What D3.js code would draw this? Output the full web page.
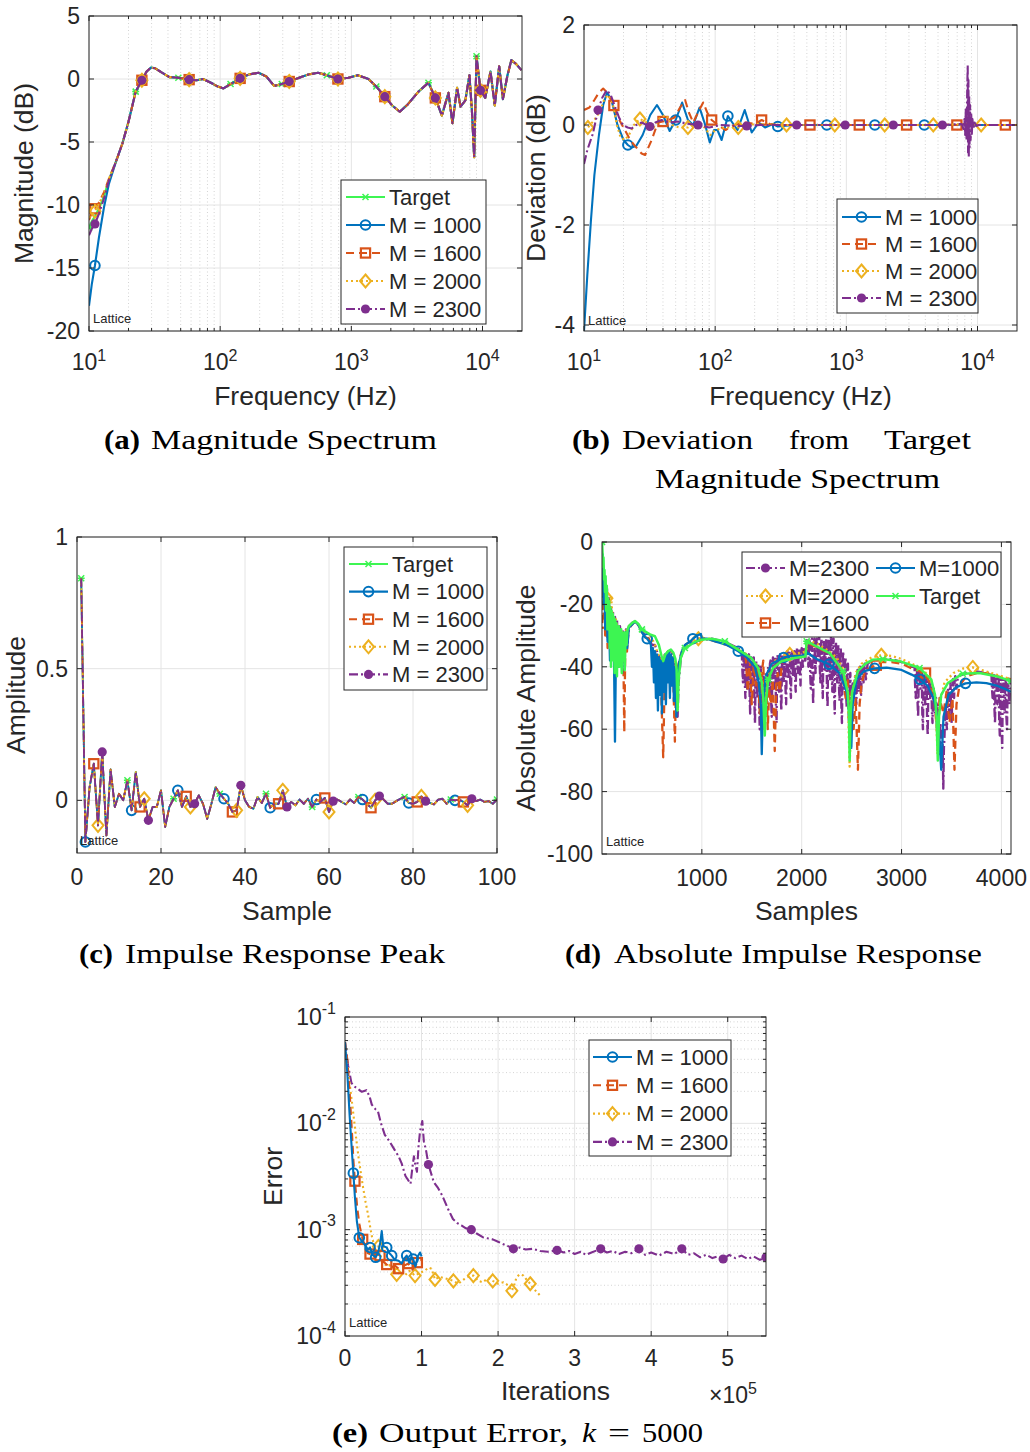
<!DOCTYPE html>
<html>
<head>
<meta charset="utf-8">
<script src="https://cdn.jsdelivr.net/npm/d3@7"></script>
<style>
  body { margin: 0; background: #fff; }
  svg text { font-family: "Liberation Sans", Arial, sans-serif; fill: #262626; }
  svg text.cap { font-family: "Liberation Serif", "DejaVu Serif", serif; fill: #000; }
</style>
</head>
<body>
<svg id="fig" width="1030" height="1452"></svg>
<script>
// ---------- (a) magnitude spectrum ----------
const freqA = [10, 10.5, 11.1, 11.9, 13, 14.2, 16, 18, 20, 22.7, 25.3, 27.5, 29.6, 32, 36, 41, 48, 58, 66, 74,
  85, 96, 106, 120, 142, 165, 196, 225, 258, 295, 336, 400, 470, 557, 650, 790, 950, 1120, 1350, 1550,
  1800, 2050, 2340, 2700, 3250, 3870, 4370, 4900, 5500, 5900, 6400, 6800, 7400, 7950, 8300, 8640, 9000, 9650, 10500, 11500,
  12400, 13400, 14300, 15500, 16600, 18000, 19800];
const magTarget = [-11.8, -11.3, -10.9, -10.3, -9.3, -8.0, -6.6, -5.1, -3.4, -1.0,
  -0.1, 0.6, 0.9, 0.85, 0.5, 0.15, 0.1, -0.05, -0.1, 0.0,
  -0.3, -0.6, -0.75, -0.4, 0.05, 0.35, 0.5, 0.2, -0.55, -0.4,
  -0.2, 0.1, 0.35, 0.5, 0.3, 0.0, 0.1, 0.3, 0.0, -0.6,
  -1.4, -2.1, -2.6, -2.0, -1.0, -0.3, -1.5, -2.9, -1.1, -3.5,
  -0.7, -2.2, -1.7, 0.3, -2.5, -6.2, 1.8, -0.9, -1.5, 0.6,
  -2.1, 1.0, -1.6, 0.3, 1.5, 1.2, 0.7];
// the M curves only leave the target below ~15 Hz
const magHead1000 = [-18.0, -16.3, -14.8, -12.6, -10.2, -8.3];
const magHead1600 = [-11.2, -10.6, -10.3, -9.8, -9.0, -7.9];
const magHead2000 = [-11.0, -10.8, -10.5, -9.9, -9.1, -7.9];
const magHead2300 = [-12.4, -11.9, -11.5, -10.7, -9.5, -8.0];
const mkIdxTargetA = [0, 9, 16, 23, 29, 34, 39, 45, 56];
const mkIdxMA = [2, 10, 17, 24, 30, 35, 40, 46, 57];

// ---------- (b) deviation ----------
const dev1000 = [[10, -4.12], [10.6, -3.0], [11.3, -1.9], [12, -1.0], [13, -0.2], [14, 0.4], [15, 0.65], [16.2, 0.5], [18, 0.0], [20, -0.3],
  [21.6, -0.4], [23, -0.45], [25, -0.42], [28, -0.2], [32, 0.2], [36, 0.4], [40, 0.2], [45, -0.12], [50, 0.1], [56, 0.45],
  [62, 0.1], [68, 0.0], [76, 0.35], [84, 0.0], [91, -0.35], [98, -0.1], [104, -0.1], [112, -0.3], [125, 0.18], [135, 0.05],
  [148, -0.1], [168, 0.3], [190, -0.15], [215, 0.05], [240, -0.05], [275, 0.02], [300, -0.03], [400, 0.0], [710, 0.0], [1650, 0.0],
  [3930, 0.0], [7000, 0.0], [8200, 0.03], [8500, -0.06], [8800, 0.04], [9200, -0.02], [10000, 0], [20000, 0]];
const dev1600 = [[10, 0.3], [11, 0.35], [12, 0.5], [13, 0.65], [14, 0.73], [15, 0.65], [16.9, 0.39], [18, 0.17], [20, -0.05], [22, -0.25],
  [23.6, -0.37], [26, -0.5], [27.5, -0.57], [29.2, -0.6], [32.8, -0.3], [36.6, 0.05], [40, 0.07], [44, 0.1], [49, 0.15], [54, 0.35],
  [59, 0.5], [63, 0.25], [68, 0.05], [74, 0.25], [81, 0.45], [87, 0.25], [94, 0.1], [105, 0.0], [120, -0.1], [140, 0.0],
  [170, 0.05], [200, 0.02], [226, 0.1], [260, 0.02], [300, 0.0], [528, 0.0], [1255, 0.0], [2880, 0.0], [6960, 0.0], [8300, 0.03],
  [8600, -0.05], [9000, 0.03], [10000, 0], [16300, 0.0], [20000, 0]];
const dev2000 = [[10, -0.1], [10.7, -0.05], [12, 0.1], [13.2, 0.27], [14.2, 0.5], [15.2, 0.6], [16.5, 0.45], [17.8, 0.0], [19, -0.25], [20.5, -0.3],
  [22, -0.2], [24, 0.0], [26.7, 0.12], [30, 0.05], [34, -0.05], [38, 0.15], [42, 0.2], [47, 0.0], [53, -0.05], [62, -0.05],
  [70, 0.05], [80, 0.0], [92, -0.2], [100, -0.1], [120, -0.05], [150, -0.05], [200, 0.02], [350, 0.0], [816, 0.0], [1960, 0.0],
  [4600, 0.0], [8300, 0.02], [8600, -0.04], [9000, 0.02], [10660, 0.0], [20000, 0.0]];
const dev2300 = [[10, -0.78], [10.6, -0.5], [11.7, -0.17], [12.8, 0.3], [13.8, 0.55], [14.9, 0.7], [16, 0.6], [17.2, 0.37], [18.5, 0.15], [19.8, 0.0],
  [21.5, -0.05], [23.1, -0.07], [25, 0.0], [27.5, 0.05], [31.8, -0.03], [35, 0.05], [39, 0.1], [45, 0.05], [52, 0.07], [60, 0.03],
  [74, 0.0], [90, -0.05], [110, 0.0], [140, -0.02], [174, -0.02], [220, 0.0], [418, 0.0], [980, 0.0], [2280, 0.0], [5400, 0.0],
  [7600, 0.02], [7800, -0.08], [7950, 0.12], [8050, -0.2], [8150, 0.35], [8250, -0.3], [8350, 0.75], [8420, 1.2], [8470, -0.55], [8530, 0.9],
  [8580, -0.65], [8640, 0.6], [8700, -0.45], [8780, 0.4], [8860, -0.3], [8950, 0.25], [9050, -0.18], [9150, 0.12], [9300, -0.08], [9500, 0.05],
  [9800, -0.02], [10200, 0.0], [20000, 0.0]];
const mkDev1000 = [21.6, 50, 125, 300, 710, 1650, 3930];
const mkDev1600 = [16.9, 40, 94, 226, 528, 1255, 2880, 6960, 16300];
const mkDev2000 = [10.7, 26.7, 62, 150, 350, 816, 1960, 4600, 10660];
const mkDev2300 = [12.8, 31.8, 74, 174, 418, 980, 2280, 5400];

// ---------- (c) impulse response, first 100 samples ----------
const irPeak = [0.843, -0.158, 0.05, 0.139, -0.095, 0.184, -0.133, 0.117, -0.025, 0.025,
  0, 0.076, -0.038, 0.108, -0.025, 0.006, -0.076, -0.025, -0.025, 0.038,
  -0.101, -0.025, 0.006, 0.038, -0.025, 0.015, -0.025, -0.013, 0.019, -0.013,
  -0.07, -0.013, 0.05, 0.025, 0.006, -0.013, -0.044, -0.038, 0.057, 0,
  -0.025, -0.032, 0.013, -0.01, 0.025, -0.028, -0.013, -0.013, 0.038, -0.025,
  -0.006, -0.019, 0.003, -0.013, 0.006, -0.025, 0.003, -0.006, 0.009, -0.044,
  -0.003, 0.003, -0.006, -0.015, 0.003, -0.01, 0.013, 0.003, -0.013, -0.028,
  0, 0.016, 0.003, -0.013, -0.013, -0.003, 0.006, 0.013, -0.01, -0.013,
  -0.006, 0.015, -0.003, -0.01, -0.015, 0.003, 0.006, -0.013, 0.003, 0,
  0.003, -0.006, -0.019, 0.006, -0.003, 0.003, -0.006, -0.003, -0.013, 0.003];
const mkStartC = {target: 1, m1000: 2, m1600: 4, m2000: 5, m2300: 6};

// ---------- (d) absolute impulse response (dB) ----------
const absTarget = [[1, 0], [5, -3], [10, -8], [15, -5], [20, -12], [25, -9], [30, -16], [36, -11], [42, -22], [48, -14],
  [54, -28], [60, -18], [66, -25], [72, -19], [78, -34], [84, -21], [90, -40], [96, -22], [102, -30], [108, -23],
  [114, -38], [120, -24], [126, -42], [132, -25], [138, -34], [144, -26], [150, -43], [156, -27], [162, -36], [168, -27],
  [174, -40], [180, -28], [186, -34], [192, -28], [198, -42], [204, -29], [212, -38], [220, -29], [228, -41], [236, -29],
  [246, -33], [256, -28], [268, -27], [300, -26], [330, -25.3], [365, -26.3], [400, -28], [430, -28.6], [480, -29.6], [530, -30.2],
  [570, -33], [600, -37], [613, -38.2], [635, -36], [663, -35], [690, -34.5], [715, -35.5], [735, -37.5], [747, -41], [757, -54],
  [767, -44], [790, -37], [830, -34], [863, -33.5], [930, -32], [997, -31.3], [1097, -31], [1230, -31.8], [1363, -34.5], [1497, -37.2],
  [1563, -40.4], [1600, -45], [1615, -50], [1630, -62], [1645, -50], [1665, -44], [1713, -40.4], [1797, -38.2], [1930, -37.2], [2037, -36.7],
  [2050, -31.8], [2150, -33.5], [2280, -35.6], [2413, -41.4], [2460, -48], [2473, -55], [2480, -70], [2490, -55], [2505, -48], [2563, -41.4],
  [2640, -39], [2713, -37.7], [2813, -37.5], [2980, -38.2], [3180, -40.4], [3297, -44], [3335, -49], [3350, -56], [3363, -70], [3375, -56],
  [3397, -49], [3463, -45.2], [3613, -42.2], [3780, -42], [3947, -43], [4096, -44.6]];
const abs1000 = [[1, -16], [8, -4], [16, -20], [24, -12], [32, -28], [44, -18], [56, -32], [68, -22], [80, -38], [92, -24],
  [104, -34], [116, -26], [130, -64], [142, -28], [154, -40], [166, -29], [178, -36], [190, -29], [202, -42], [214, -30],
  [226, -34], [238, -29], [252, -34], [268, -27.5], [300, -26.5], [330, -25.5], [365, -26.5], [400, -29], [430, -30.5], [453, -31],
  [475, -32], [490, -33], [500, -40], [510, -34], [520, -45], [530, -35], [540, -50], [550, -36], [560, -54], [570, -37],
  [580, -49], [590, -38], [600, -55], [610, -38], [620, -48], [630, -36], [640, -52], [650, -36], [660, -45], [670, -35],
  [680, -50], [690, -36], [700, -46], [710, -37], [720, -51], [730, -40], [745, -56], [755, -45], [770, -39], [800, -35],
  [830, -33], [880, -32], [910, -31], [950, -30], [990, -29.5], [1000, -31], [1050, -31], [1150, -32], [1250, -33], [1365, -35],
  [1450, -37], [1530, -40], [1570, -45], [1590, -52], [1600, -68], [1612, -52], [1640, -43], [1700, -39], [1820, -37], [1900, -36.5],
  [2000, -36.5], [2045, -36], [2055, -35.5], [2150, -37.5], [2275, -39.2], [2380, -42], [2450, -48], [2480, -56], [2497, -66], [2510, -52],
  [2550, -44], [2620, -41.5], [2730, -40.5], [2850, -40.3], [3000, -41], [3100, -42.5], [3185, -44], [3260, -46], [3320, -50], [3370, -58],
  [3397, -73], [3420, -56], [3470, -49], [3550, -46.5], [3640, -45.3], [3750, -45], [3850, -45.2], [3950, -46], [4030, -47], [4096, -48]];
const abs1600 = [[1, -26], [8, -14], [16, -24], [24, -18], [32, -30], [44, -22], [56, -34], [68, -24], [80, -30], [92, -26],
  [104, -36], [116, -27], [128, -40], [140, -29], [152, -33], [164, -30], [176, -38], [188, -30], [200, -36], [212, -31],
  [223, -61], [234, -32], [248, -36], [265, -28], [300, -26.5], [330, -25.5], [365, -26.5], [400, -29], [430, -30.5], [470, -31],
  [500, -34], [530, -36], [560, -38], [590, -45], [613, -69], [625, -48], [645, -38], [665, -36], [690, -36.5], [710, -39],
  [730, -64], [742, -45], [760, -40], [790, -36], [830, -33], [880, -32], [950, -31], [1050, -31], [1150, -32], [1250, -33],
  [1350, -34.5], [1420, -36], [1440, -37], [1460, -48], [1480, -38], [1500, -52], [1520, -39], [1540, -46], [1560, -40], [1580, -55],
  [1600, -42], [1615, -38], [1630, -56], [1645, -44], [1660, -60], [1675, -47], [1690, -52], [1710, -44], [1730, -67], [1745, -46],
  [1760, -42], [1780, -48], [1800, -39], [1830, -38], [1870, -37], [1930, -36.5], [2000, -36], [2040, -35], [2055, -32], [2100, -33],
  [2200, -34.5], [2300, -36], [2400, -41], [2440, -50], [2460, -44], [2480, -55], [2500, -48], [2520, -60], [2540, -50], [2563, -73],
  [2580, -52], [2600, -45], [2640, -41], [2747, -39.5], [2800, -38.5], [2900, -38.5], [3000, -39], [3100, -40.5], [3240, -42], [3280, -45],
  [3330, -52], [3360, -62], [3380, -50], [3420, -55], [3450, -48], [3480, -58], [3510, -50], [3530, -73], [3550, -52], [3580, -46],
  [3650, -43], [3750, -42], [3850, -42], [3950, -43], [4096, -44]];
const abs2000 = [[1, -6], [10, -12], [20, -16], [30, -14], [49, -18], [60, -22], [75, -20], [90, -17], [105, -24], [120, -26],
  [135, -24], [150, -27], [170, -29], [190, -28], [210, -30], [230, -29], [250, -28], [270, -27], [300, -26], [330, -25.5],
  [365, -26.5], [400, -28.5], [430, -29], [470, -29.5], [500, -31], [530, -33], [560, -36], [600, -37.5], [640, -35.5], [665, -35],
  [700, -35], [730, -38], [750, -46], [757, -53], [770, -40], [800, -35], [850, -32.5], [965, -31], [1050, -30.8], [1150, -31.5],
  [1250, -32.5], [1350, -34], [1450, -36], [1530, -38.5], [1580, -41], [1610, -46], [1625, -58], [1640, -47], [1670, -41], [1710, -38.5],
  [1790, -37], [1881, -36], [2000, -35.5], [2045, -35], [2055, -31.5], [2150, -32.5], [2250, -34.5], [2350, -37], [2420, -41], [2460, -48],
  [2480, -72], [2500, -50], [2540, -42], [2600, -39], [2700, -37], [2797, -36.3], [2900, -36.5], [3000, -37.5], [3100, -39], [3200, -40.5],
  [3290, -43.5], [3340, -51], [3360, -68], [3380, -52], [3430, -45], [3520, -42], [3620, -40.5], [3713, -40.2], [3800, -41], [3900, -42],
  [4000, -43], [4096, -44]];
const abs2300 = [[1, -14], [10, -8], [20, -20], [30, -12], [40, -26], [50, -15], [60, -30], [70, -18], [80, -33], [90, -21],
  [100, -36], [110, -22], [120, -38], [130, -24], [140, -35], [150, -25], [165, -40], [180, -27], [195, -37], [210, -28],
  [225, -40], [240, -28], [255, -33], [270, -27], [300, -26], [330, -25.5], [360, -26.5], [400, -28.5], [430, -30], [470, -31],
  [500, -33], [530, -33], [560, -36], [590, -38], [613, -38], [640, -36], [663, -35], [690, -35], [710, -36], [730, -40],
  [747, -44], [757, -56], [767, -45], [790, -37], [820, -34], [860, -33], [900, -32], [1000, -31.5], [1100, -31], [1230, -32],
  [1360, -34], [1400, -35], [1406, -41], [1412, -45], [1418, -38], [1424, -35], [1430, -44], [1436, -50], [1442, -39], [1448, -36],
  [1454, -47], [1460, -42], [1466, -37], [1472, -36], [1478, -48], [1484, -55], [1490, -41], [1496, -37], [1502, -43], [1508, -46],
  [1514, -38], [1520, -37], [1526, -51], [1532, -58], [1538, -42], [1544, -38], [1550, -45], [1556, -50], [1562, -40], [1568, -39],
  [1574, -53], [1580, -60], [1586, -44], [1592, -40], [1598, -47], [1604, -52], [1610, -43], [1616, -44], [1622, -55], [1628, -60],
  [1634, -45], [1640, -42], [1646, -50], [1652, -55], [1658, -43], [1664, -40], [1670, -46], [1676, -49], [1682, -39], [1688, -38],
  [1694, -51], [1700, -56], [1706, -41], [1712, -37], [1718, -44], [1724, -47], [1730, -38], [1736, -37], [1742, -52], [1748, -58],
  [1754, -40], [1760, -36], [1766, -44], [1772, -48], [1778, -38], [1784, -36], [1790, -49], [1796, -54], [1802, -39], [1808, -36],
  [1814, -42], [1820, -45], [1826, -37], [1832, -36], [1838, -47], [1844, -52], [1850, -38], [1856, -35], [1862, -41], [1868, -44],
  [1874, -36], [1880, -35], [1886, -46], [1892, -50], [1898, -37], [1904, -35], [1910, -40], [1916, -43], [1922, -36], [1928, -35],
  [1934, -44], [1940, -48], [1946, -36], [1952, -34], [1958, -39], [1964, -42], [1970, -35], [1976, -34], [1982, -42], [1988, -46],
  [1994, -36], [2000, -34], [2006, -38], [2012, -40], [2018, -35], [2024, -34], [2030, -37], [2036, -38], [2046, -33], [2055, -31],
  [2061, -36], [2067, -40], [2073, -33], [2079, -31], [2085, -42], [2091, -47], [2097, -34], [2103, -31], [2109, -45], [2115, -52],
  [2121, -35], [2127, -31], [2133, -38], [2139, -42], [2145, -33], [2151, -31], [2157, -35], [2163, -38], [2169, -32], [2175, -30],
  [2181, -40], [2187, -45], [2193, -33], [2199, -31], [2205, -44], [2211, -50], [2217, -35], [2223, -32], [2229, -38], [2235, -41],
  [2241, -33], [2247, -31], [2253, -47], [2259, -53], [2265, -34], [2271, -31], [2277, -40], [2283, -44], [2289, -32], [2295, -30],
  [2301, -43], [2307, -48], [2313, -34], [2319, -31], [2325, -49], [2331, -55], [2337, -36], [2343, -32], [2349, -41], [2355, -45],
  [2361, -35], [2367, -33], [2373, -46], [2379, -51], [2385, -37], [2391, -34], [2397, -52], [2403, -58], [2409, -39], [2415, -35],
  [2421, -43], [2427, -47], [2433, -39], [2439, -37], [2445, -49], [2451, -53], [2457, -42], [2463, -39], [2469, -54], [2475, -60],
  [2481, -45], [2487, -42], [2493, -51], [2499, -55], [2505, -47], [2511, -45], [2517, -48], [2523, -50], [2529, -45], [2535, -43],
  [2541, -49], [2547, -52], [2553, -43], [2559, -41], [2565, -45], [2571, -48], [2577, -42], [2583, -40], [2589, -46], [2595, -49],
  [2601, -41], [2607, -40], [2613, -43], [2619, -45], [2625, -40], [2631, -39], [2637, -42], [2643, -44], [2660, -39], [2700, -38],
  [2800, -37.5], [2900, -37.5], [3000, -38.5], [3100, -40], [3130, -40], [3136, -46], [3142, -50], [3148, -42], [3154, -40], [3160, -51],
  [3166, -56], [3172, -43], [3178, -41], [3184, -45], [3190, -47], [3196, -42], [3202, -41], [3208, -55], [3214, -60], [3220, -44],
  [3226, -42], [3232, -49], [3238, -52], [3244, -44], [3250, -43], [3256, -57], [3262, -62], [3268, -46], [3274, -44], [3280, -48],
  [3286, -50], [3292, -46], [3298, -45], [3304, -54], [3310, -58], [3316, -48], [3322, -47], [3328, -52], [3334, -55], [3340, -50],
  [3346, -50], [3352, -58], [3358, -62], [3364, -53], [3370, -52], [3376, -63], [3382, -68], [3388, -58], [3394, -60], [3400, -66],
  [3406, -72], [3412, -65], [3418, -79], [3424, -66], [3430, -62], [3436, -56], [3442, -52], [3448, -57], [3454, -60], [3460, -50],
  [3466, -47], [3472, -52], [3478, -55], [3484, -47], [3490, -45], [3496, -54], [3502, -58], [3508, -46], [3514, -44], [3520, -48],
  [3526, -50], [3532, -44], [3538, -43], [3544, -46], [3550, -47], [3565, -43], [3650, -42], [3750, -41.5], [3850, -42], [3900, -42],
  [3906, -47], [3912, -50], [3918, -43], [3924, -42], [3930, -53], [3936, -58], [3942, -44], [3948, -43], [3954, -49], [3960, -52],
  [3966, -44], [3972, -43], [3978, -57], [3984, -62], [3990, -45], [3996, -44], [4002, -60], [4008, -66], [4014, -46], [4020, -44],
  [4026, -51], [4032, -55], [4038, -45], [4044, -44], [4050, -56], [4056, -60], [4062, -46], [4068, -45], [4074, -49], [4080, -52],
  [4086, -46], [4092, -45]];
const mkAbsTarget = [1, 400, 830, 1230, 1665, 2050, 2413, 2813, 3180, 3613, 4096];
const mkAbs1000 = [1, 453, 910, 1365, 1820, 2275, 2730, 3185, 3640];
const mkAbs1600 = [1, 2747, 3240];
const mkAbs2000 = [49, 965, 1881, 2797, 3713];
const mkAbs2300 = [];

// ---------- (e) output error ----------
const err1000 = [[0, 0.058], [3000, 0.03], [6000, 0.012], [9000, 0.0055], [10900, 0.0034], [13000, 0.002], [15500, 0.0012], [18700, 0.00084], [22000, 0.00078], [26000, 0.00072],
  [30000, 0.00065], [32700, 0.00068], [36000, 0.00058], [40000, 0.00055], [43000, 0.0006], [46000, 0.00075], [48000, 0.00097], [50000, 0.0007], [54500, 0.00068], [58000, 0.0006],
  [61000, 0.00057], [65000, 0.00052], [70000, 0.00051], [74000, 0.00048], [77000, 0.00053], [80600, 0.00057], [84000, 0.00049], [87000, 0.00055], [89000, 0.00053], [92000, 0.00045],
  [95000, 0.00056], [98000, 0.00061], [100000, 0.00056]];
const err1600 = [[0, 0.058], [3000, 0.04], [6000, 0.02], [9000, 0.0085], [11000, 0.0045], [13000, 0.00286], [16000, 0.0016], [19000, 0.0011], [23100, 0.00081], [27000, 0.00068],
  [30000, 0.0006], [32700, 0.00059], [36000, 0.00055], [40000, 0.0006], [45700, 0.00057], [50000, 0.0005], [54500, 0.00047], [60000, 0.00044], [65000, 0.00046], [70000, 0.00043],
  [75000, 0.00045], [82700, 0.00048], [88000, 0.00042], [94500, 0.00049], [100000, 0.00052]];
const err2000 = [[0, 0.058], [3000, 0.035], [6000, 0.024], [9000, 0.016], [12000, 0.0105], [15000, 0.0068], [18000, 0.0046], [21000, 0.0033], [24000, 0.0024], [27000, 0.0018],
  [30000, 0.0014], [33000, 0.00105], [36000, 0.0008], [40000, 0.00068], [43600, 0.000695], [47000, 0.00055], [50000, 0.00049], [55000, 0.00045], [60000, 0.00047], [67500, 0.00038],
  [72000, 0.0004], [78000, 0.00037], [84000, 0.00041], [91500, 0.00037], [97000, 0.00039], [104000, 0.00041], [109000, 0.00044], [113000, 0.00043], [117600, 0.00034], [123000, 0.00036],
  [130000, 0.00035], [136000, 0.00034], [141600, 0.00033], [148000, 0.00031], [155000, 0.00034], [161000, 0.00036], [167700, 0.00037], [174000, 0.00033], [180000, 0.00032], [187000, 0.00035],
  [193000, 0.00033], [200000, 0.00031], [207000, 0.00032], [213000, 0.0003], [218000, 0.000266], [221000, 0.0003], [224000, 0.000355], [228000, 0.00038], [233000, 0.00037], [237000, 0.00034],
  [242000, 0.00031], [246000, 0.00028], [250500, 0.00026], [255000, 0.00024]];
const err2300 = [[0, 0.058], [4000, 0.035], [8400, 0.024], [13000, 0.022], [17000, 0.021], [22000, 0.0198], [28000, 0.0205], [32000, 0.018], [35000, 0.015], [40000, 0.0135],
  [43000, 0.013], [47000, 0.01], [52000, 0.0078], [58000, 0.0068], [65000, 0.0056], [70000, 0.0049], [74000, 0.0042], [79000, 0.0032], [85600, 0.0027], [88000, 0.0038],
  [90000, 0.0049], [92000, 0.004], [94000, 0.0035], [96000, 0.006], [98000, 0.0084], [101000, 0.0105], [103000, 0.0068], [106000, 0.0055], [109000, 0.0041], [116000, 0.0028],
  [121000, 0.0025], [127000, 0.0021], [134000, 0.0016], [141000, 0.00126], [147000, 0.00115], [152000, 0.0011], [158000, 0.00103], [165000, 0.001], [172000, 0.00092], [180000, 0.00085],
  [186000, 0.00083], [193000, 0.00081], [200000, 0.00077], [207000, 0.00073], [213000, 0.0007], [220000, 0.00066], [228000, 0.00068], [236000, 0.00065], [245000, 0.00066], [255000, 0.00063],
  [265000, 0.00062], [277000, 0.00064], [286000, 0.00061], [293000, 0.00063], [300000, 0.00059], [308000, 0.00062], [315000, 0.00058], [322000, 0.00061], [334000, 0.00066], [342000, 0.00061],
  [350000, 0.00063], [358000, 0.00059], [366000, 0.00062], [374000, 0.0006], [384000, 0.00066], [392000, 0.00058], [400000, 0.00061], [410000, 0.00057], [420000, 0.00062], [430000, 0.00059],
  [440000, 0.00066], [448000, 0.00058], [456000, 0.0006], [464000, 0.00055], [472000, 0.00058], [480000, 0.00054], [487000, 0.00056], [494000, 0.00053], [502000, 0.00058], [510000, 0.00054],
  [518000, 0.00057], [526000, 0.00053], [534000, 0.00056], [542000, 0.00052], [550000, 0.00055]];
const mkErr1000 = [10900, 18700, 32700, 40000, 54500, 61000, 80600, 89000];
const mkErr1600 = [13000, 23100, 32700, 45700, 54500, 70000, 82700, 94500];
const mkErr2000 = [43600, 67500, 91500, 117600, 141600, 167700, 193000, 218000, 242000];
const mkErr2300 = [109000, 165000, 220000, 277000, 334000, 384000, 440000, 494000, 550000];

// tick labels
const decadeTicks = [10, 100, 1000, 10000];
const decadeLabels = [['10', '1'], ['10', '2'], ['10', '3'], ['10', '4']];
const yTicksA = [-20, -15, -10, -5, 0, 5];
const yTicksB = [-4, -2, 0, 2];
const xTicksC = [0, 20, 40, 60, 80, 100];
const yTicksC = [0, 0.5, 1];
const xTicksD = [1000, 2000, 3000, 4000];
const yTicksD = [-100, -80, -60, -40, -20, 0];
const xTicksE = [0, 100000, 200000, 300000, 400000, 500000];
const xLabelsE = ['0', '1', '2', '3', '4', '5'];
const yTicksE = [1e-4, 1e-3, 1e-2, 1e-1];
const yLabelsE = [['10', '-4'], ['10', '-3'], ['10', '-2'], ['10', '-1']];

// line styles of the five curves
const ST = {
    target: {color: '#3df552', dash: null, marker: 'x'},
    m1000: {color: '#0072bd', dash: null, marker: 'o'},
    m1600: {color: '#d95319', dash: '8,5', marker: 's'},
    m2000: {color: '#edb120', dash: '2,3', marker: 'd'},
    m2300: {color: '#7e2f8e', dash: '9,3,2,3', marker: '.'}
};
const TICK_FS = 23, TITLE_FS = 26.5, LEGEND_FS = 22;

const svg = d3.select('#fig');
const defs = svg.append('defs');

function marker(g, type, x, y, color) {
    if (type === 'o') {
        g.append('circle').attr('cx', x).attr('cy', y).attr('r', 4.8)
            .attr('fill', 'none').attr('stroke', color).attr('stroke-width', 2);
    } else if (type === 's') {
        g.append('rect').attr('x', x - 4.6).attr('y', y - 4.6).attr('width', 9.2).attr('height', 9.2)
            .attr('fill', 'none').attr('stroke', color).attr('stroke-width', 2.2);
    } else if (type === 'd') {
        g.append('path').attr('d', `M${x},${y - 6.5}L${x + 5.5},${y}L${x},${y + 6.5}L${x - 5.5},${y}Z`)
            .attr('fill', 'none').attr('stroke', color).attr('stroke-width', 2);
    } else if (type === '.') {
        g.append('circle').attr('cx', x).attr('cy', y).attr('r', 4.6).attr('fill', color);
    } else {
        g.append('path').attr('d', `M${x - 3},${y - 3}L${x + 3},${y + 3}M${x - 3},${y + 3}L${x + 3},${y - 3}M${x - 3.5},${y}L${x + 3.5},${y}`)
            .attr('stroke', color).attr('stroke-width', 1.5);
    }
}

function setLabel(sel, t) {
    if (Array.isArray(t)) {
        sel.text(t[0]);
        sel.append('tspan').attr('dy', -9.5).attr('font-size', 16).text(t[1]);
    } else {
        sel.text(t);
    }
}

function minorDecades(lo, hi) {
    const out = [];
    for (let d = lo; d < hi; d *= 10) for (let k = 2; k <= 9; k++) if (d * k < hi) out.push(d * k);
    return out;
}

// grid + clipped plot group
function panel(id, xs, ys, opt) {
    const [x0, x1] = xs.range(), [y1, y0] = ys.range();
    const g = svg.append('g');
    const vline = (data, stroke, dash) => g.selectAll(null).data(data).join('line')
        .attr('x1', d => xs(d)).attr('x2', d => xs(d)).attr('y1', y0).attr('y2', y1)
        .attr('stroke', stroke).attr('stroke-dasharray', dash);
    const hline = (data, stroke, dash) => g.selectAll(null).data(data).join('line')
        .attr('y1', d => ys(d)).attr('y2', d => ys(d)).attr('x1', x0).attr('x2', x1)
        .attr('stroke', stroke).attr('stroke-dasharray', dash);
    vline(opt.xMinor || [], '#d4d4d4', '1,2.5');
    hline(opt.yMinor || [], '#d4d4d4', '1,2.5');
    vline(opt.xTicks, '#e4e4e4', null);
    hline(opt.yTicks, '#e4e4e4', null);
    defs.append('clipPath').attr('id', id).append('rect')
        .attr('x', x0).attr('y', y0).attr('width', x1 - x0).attr('height', y1 - y0);
    const plot = svg.append('g').attr('clip-path', `url(#${id})`);
    return {xs, ys, opt, plot, x0, x1, y0, y1};
}

function axes(P) {
    const {xs, ys, opt, x0, x1, y0, y1} = P;
    const g = svg.append('g');
    const tk = '#262626';
    g.append('rect').attr('x', x0).attr('y', y0).attr('width', x1 - x0).attr('height', y1 - y0)
        .attr('fill', 'none').attr('stroke', tk).attr('stroke-width', 1);
    const xt = (vals, len) => vals.forEach(v => {
        g.append('line').attr('x1', xs(v)).attr('x2', xs(v)).attr('y1', y1).attr('y2', y1 - len).attr('stroke', tk);
        g.append('line').attr('x1', xs(v)).attr('x2', xs(v)).attr('y1', y0).attr('y2', y0 + len).attr('stroke', tk);
    });
    const yt = (vals, len) => vals.forEach(v => {
        g.append('line').attr('y1', ys(v)).attr('y2', ys(v)).attr('x1', x0).attr('x2', x0 + len).attr('stroke', tk);
        g.append('line').attr('y1', ys(v)).attr('y2', ys(v)).attr('x1', x1).attr('x2', x1 - len).attr('stroke', tk);
    });
    xt(opt.xTicks, 5); yt(opt.yTicks, 5);
    xt(opt.xMinor || [], 3); yt(opt.yMinor || [], 3);
    opt.xTicks.forEach((v, i) => {
        setLabel(g.append('text').attr('x', xs(v)).attr('y', y1 + opt.xLabDy).attr('text-anchor', 'middle')
            .attr('font-size', TICK_FS), opt.xLabels ? opt.xLabels[i] : String(v));
    });
    opt.yTicks.forEach((v, i) => {
        setLabel(g.append('text').attr('x', x0 - 9).attr('y', ys(v)).attr('text-anchor', 'end')
            .attr('dominant-baseline', 'central').attr('font-size', TICK_FS), opt.yLabels ? opt.yLabels[i] : String(v));
    });
    g.append('text').attr('x', (x0 + x1) / 2).attr('y', opt.xTitleY).attr('text-anchor', 'middle')
        .attr('font-size', TITLE_FS).text(opt.xTitle);
    g.append('text').attr('transform', `translate(${opt.yTitleX},${(y0 + y1) / 2}) rotate(-90)`)
        .attr('text-anchor', 'middle').attr('font-size', TITLE_FS).text(opt.yTitle);
    g.append('text').attr('x', x0 + opt.latX).attr('y', opt.latY).attr('font-size', 13).attr('fill', '#000').text('Lattice');
}

function series(P, pts, st, marks, w) {
    const line = d3.line().x(d => P.xs(d[0])).y(d => P.ys(d[1]));
    P.plot.append('path').datum(pts).attr('d', line)
        .attr('fill', 'none').attr('stroke', st.color).attr('stroke-width', w || 2.1)
        .attr('stroke-dasharray', st.dash).attr('stroke-linejoin', 'round');
    pts.filter(d => marks.includes(d[0]))
        .forEach(d => marker(P.plot, st.marker, P.xs(d[0]), P.ys(d[1]), st.color));
}

function legend(box, rows) {
    const g = svg.append('g');
    g.append('rect').attr('x', box[0]).attr('y', box[1]).attr('width', box[2]).attr('height', box[3])
        .attr('fill', '#fff').attr('stroke', '#262626').attr('stroke-width', 1);
    rows.forEach(r => {
        const st = ST[r.key];
        g.append('line').attr('x1', r.x).attr('x2', r.x + 39).attr('y1', r.y).attr('y2', r.y)
            .attr('stroke', st.color).attr('stroke-width', 2.1).attr('stroke-dasharray', st.dash);
        marker(g, st.marker, r.x + 19.5, r.y, st.color);
        g.append('text').attr('x', r.x + 43).attr('y', r.y + 7.8).attr('font-size', LEGEND_FS).attr('fill', '#000').text(r.label);
    });
}

function caption(parts, y) {
    parts.forEach(p => {
        const t = svg.append('text').attr('class', 'cap').attr('x', p[1]).attr('y', y)
            .attr('font-size', 27).attr('textLength', p[2]).attr('lengthAdjust', 'spacingAndGlyphs').text(p[0]);
        if (p[3] === 'b') t.attr('font-weight', 'bold');
        if (p[3] === 'i') t.attr('font-style', 'italic');
    });
}

const zipA = vals => freqA.map((f, i) => [f, vals[i]]);
const mkA = idx => idx.map(i => freqA[i]);
const legendLabels = {target: 'Target', m1000: 'M = 1000', m1600: 'M = 1600', m2000: 'M = 2000', m2300: 'M = 2300'};

// ----- panel (a)
const PA = panel('cA', d3.scaleLog().domain([10, 20000]).range([89, 522]), d3.scaleLinear().domain([-20, 5]).range([331, 16]),
    {xTicks: decadeTicks, xLabels: decadeLabels, xMinor: minorDecades(10, 20000), yTicks: yTicksA, xLabDy: 39,
        xTitle: 'Frequency (Hz)', xTitleY: 405, yTitle: 'Magnitude (dB)', yTitleX: 33, latX: 4, latY: 323});
series(PA, zipA(magTarget), ST.target, mkA(mkIdxTargetA));
series(PA, zipA(magHead1000.concat(magTarget.slice(magHead1000.length))), ST.m1000, mkA(mkIdxMA));
series(PA, zipA(magHead1600.concat(magTarget.slice(magHead1600.length))), ST.m1600, mkA(mkIdxMA));
series(PA, zipA(magHead2000.concat(magTarget.slice(magHead2000.length))), ST.m2000, mkA(mkIdxMA));
series(PA, zipA(magHead2300.concat(magTarget.slice(magHead2300.length))), ST.m2300, mkA(mkIdxMA));
axes(PA);
legend([341, 180, 145, 144], ['target', 'm1000', 'm1600', 'm2000', 'm2300']
    .map((k, i) => ({key: k, label: legendLabels[k], x: 346, y: 197 + i * 28})));

// ----- panel (b)
const PB = panel('cB', d3.scaleLog().domain([10, 20000]).range([584, 1017]), d3.scaleLinear().domain([-4.12, 2]).range([331, 25]),
    {xTicks: decadeTicks, xLabels: decadeLabels, xMinor: minorDecades(10, 20000), yTicks: yTicksB, xLabDy: 39,
        xTitle: 'Frequency (Hz)', xTitleY: 405, yTitle: 'Deviation (dB)', yTitleX: 545, latX: 4, latY: 325});
series(PB, dev1000, ST.m1000, mkDev1000);
series(PB, dev1600, ST.m1600, mkDev1600);
series(PB, dev2000, ST.m2000, mkDev2000);
series(PB, dev2300, ST.m2300, mkDev2300);
axes(PB);
legend([837, 199, 141, 114], ['m1000', 'm1600', 'm2000', 'm2300']
    .map((k, i) => ({key: k, label: legendLabels[k], x: 842, y: 217 + i * 27})));

// ----- panel (c)
const PC = panel('cC', d3.scaleLinear().domain([0, 100]).range([77, 497]), d3.scaleLinear().domain([-0.2, 1]).range([853, 537]),
    {xTicks: xTicksC, yTicks: yTicksC, xLabDy: 32,
        xTitle: 'Sample', xTitleY: 920, yTitle: 'Amplitude', yTitleX: 25, latX: 3, latY: 845});
const ptsC = irPeak.map((v, i) => [i + 1, v]);
['target', 'm1000', 'm1600', 'm2000', 'm2300'].forEach(k => {
    const marks = ptsC.filter(d => (d[0] - mkStartC[k]) % 11 === 0 && d[0] >= mkStartC[k]).map(d => d[0]);
    series(PC, ptsC, ST[k], marks, 1.8);
});
axes(PC);
legend([344, 547, 143, 143], ['target', 'm1000', 'm1600', 'm2000', 'm2300']
    .map((k, i) => ({key: k, label: legendLabels[k], x: 349, y: 564 + i * 27.6})));

// ----- panel (d)
const PD = panel('cD', d3.scaleLinear().domain([0, 4096]).range([602, 1011]), d3.scaleLinear().domain([-100, 0]).range([854, 542]),
    {xTicks: xTicksD, yTicks: yTicksD, xLabDy: 32,
        xTitle: 'Samples', xTitleY: 920, yTitle: 'Absolute Amplitude', yTitleX: 535, latX: 4, latY: 846});
series(PD, abs2300, ST.m2300, mkAbs2300, 2.4);
series(PD, abs1600, ST.m1600, mkAbs1600, 2.3);
series(PD, abs2000, ST.m2000, mkAbs2000, 2.3);
series(PD, abs1000, ST.m1000, mkAbs1000, 2.3);
series(PD, absTarget, ST.target, mkAbsTarget, 2.5);
axes(PD);
legend([742, 552, 259, 85], [
    {key: 'm2300', label: 'M=2300', x: 746, y: 568}, {key: 'm1000', label: 'M=1000', x: 876, y: 568},
    {key: 'm2000', label: 'M=2000', x: 746, y: 596}, {key: 'target', label: 'Target', x: 876, y: 596},
    {key: 'm1600', label: 'M=1600', x: 746, y: 623}]);

// ----- panel (e)
const PE = panel('cE', d3.scaleLinear().domain([0, 550000]).range([345, 766]), d3.scaleLog().domain([1e-4, 1e-1]).range([1336, 1017]),
    {xTicks: xTicksE, xLabels: xLabelsE, yTicks: yTicksE, yLabels: yLabelsE, yMinor: minorDecades(1e-4, 1e-1), xLabDy: 30,
        xTitle: 'Iterations', xTitleY: 1400, yTitle: 'Error', yTitleX: 282, latX: 4, latY: 1327});
series(PE, err2300, ST.m2300, mkErr2300);
series(PE, err2000, ST.m2000, mkErr2000);
series(PE, err1600, ST.m1600, mkErr1600);
series(PE, err1000, ST.m1000, mkErr1000);
axes(PE);
legend([589, 1040, 142, 116], ['m1000', 'm1600', 'm2000', 'm2300']
    .map((k, i) => ({key: k, label: legendLabels[k], x: 593, y: 1057 + i * 28.3})));
setLabel(svg.append('text').attr('x', 709).attr('y', 1403).attr('font-size', TICK_FS), ['\u00d710', '5']);

// ----- captions
caption([['(a)', 104, 36, 'b'], ['Magnitude Spectrum', 151, 286]], 449);
caption([['(b)', 572, 38, 'b'], ['Deviation', 622, 131], ['from', 789, 60], ['Target', 884, 87]], 449);
caption([['Magnitude Spectrum', 655, 285]], 488);
caption([['(c)', 79, 34, 'b'], ['Impulse Response Peak', 125, 320]], 963);
caption([['(d)', 565, 36, 'b'], ['Absolute Impulse Response', 614, 368]], 963);
caption([['(e)', 332, 36, 'b'], ['Output Error,', 379, 189], ['k', 582, 14, 'i'], ['=', 608, 22], ['5000', 642, 61]], 1442);
</script>
</body>
</html>
